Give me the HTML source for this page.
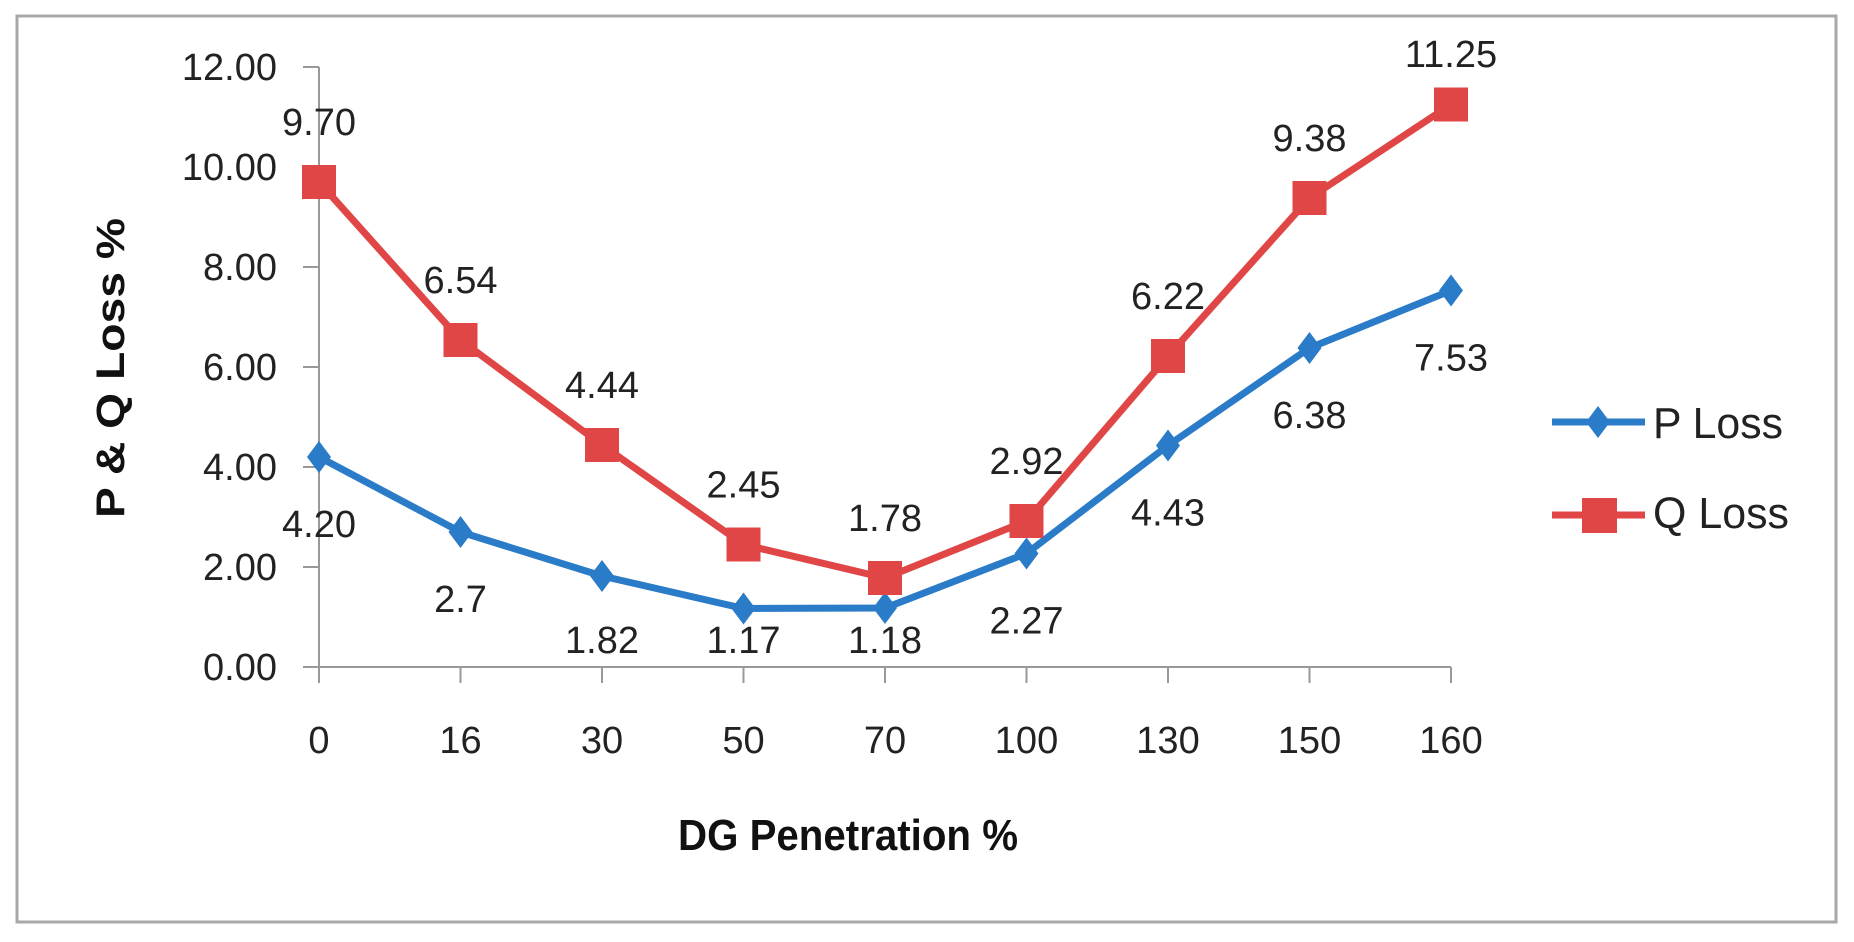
<!DOCTYPE html>
<html><head><meta charset="utf-8"><style>
html,body{margin:0;padding:0;background:#fff;}
svg{display:block;font-family:"Liberation Sans",sans-serif;}
</style></head><body>
<svg id="chart" width="1854" height="942" viewBox="0 0 1854 942" xmlns="http://www.w3.org/2000/svg">
<rect x="17" y="16" width="1819" height="906" fill="#fff" stroke="#a8a8a8" stroke-width="3"/>
<g id="axes"></g><g id="series"></g>
<text transform="translate(124,368) rotate(-90)" text-anchor="middle" font-size="40" font-weight="bold" fill="#111" textLength="300" lengthAdjust="spacingAndGlyphs">P &amp; Q Loss %</text>
<text x="848" y="850" text-anchor="middle" font-size="44" font-weight="bold" fill="#111" textLength="340" lengthAdjust="spacingAndGlyphs">DG Penetration %</text>
<g>
<g>
<line x1="1552" y1="422" x2="1645" y2="422" stroke="#2a7bc8" stroke-width="7"/>
<polygon points="1598,406 1610,422 1598,438 1586,422" fill="#2a7bc8"/>
<text x="1653" y="438" font-size="44" fill="#222" textLength="130" lengthAdjust="spacingAndGlyphs">P Loss</text></g>
<g>
<line x1="1552" y1="515" x2="1645" y2="515" stroke="#e04646" stroke-width="7"/>
<rect x="1582" y="498" width="35" height="35" fill="#e04646"/>
<text x="1653" y="528" font-size="44" fill="#222" textLength="136" lengthAdjust="spacingAndGlyphs">Q Loss</text></g>
</g>
</svg>
<script>
const categories=["0","16","30","50","70","100","130","150","160"];
const pLoss=[4.20,2.70,1.82,1.17,1.18,2.27,4.43,6.38,7.53];
const qLoss=[9.70,6.54,4.44,2.45,1.78,2.92,6.22,9.38,11.25];
const pLabels=["4.20","2.7","1.82","1.17","1.18","2.27","4.43","6.38","7.53"];
const qLabels=["9.70","6.54","4.44","2.45","1.78","2.92","6.22","9.38","11.25"];
const yTicks=[0,2,4,6,8,10,12];
const yTickLabels=["0.00","2.00","4.00","6.00","8.00","10.00","12.00"];
const NS="http://www.w3.org/2000/svg";
const x0=319,step=141.5,yBase=667,yTop=67,yMax=12;
function xs(i){return x0+i*step;}
function ys(v){return yBase-(v/yMax)*(yBase-yTop);}
function mk(t,a,p){const e=document.createElementNS(NS,t);for(const k in a)e.setAttribute(k,a[k]);p.appendChild(e);return e;}
const axes=document.getElementById('axes'),ser=document.getElementById('series');
const ya=mk('line',{x1:x0,y1:ys(yMax),x2:x0,y2:yBase,stroke:'#999','stroke-width':2},axes);


yTicks.forEach((v,i)=>{
 const t=mk('line',{x1:x0-16,y1:ys(v),x2:x0,y2:ys(v),stroke:'#999','stroke-width':2},axes);
 
 
 const l=mk('text',{x:277,y:ys(v)+13,'text-anchor':'end','font-size':38,fill:'#222'},axes);
 l.textContent=yTickLabels[i];
 
 
});
const xa=mk('line',{x1:x0-10,y1:yBase,x2:xs(categories.length-1),y2:yBase,stroke:'#999','stroke-width':2},axes);


categories.forEach((c,i)=>{
 const t=mk('line',{x1:xs(i),y1:yBase,x2:xs(i),y2:yBase+16,stroke:'#999','stroke-width':2},axes);
 
 
 const l=mk('text',{x:xs(i),y:yBase+86,'text-anchor':'middle','font-size':38,fill:'#222'},axes);
 l.textContent=c;
 
 
});
function series(vals,labels,color,name,shape,dy){
 const pl=mk('polyline',{points:vals.map((v,i)=>xs(i)+','+ys(v)).join(' '),fill:'none',stroke:color,'stroke-width':7,'stroke-linejoin':'round'},ser);
 
 
 vals.forEach((v,i)=>{
  const x=xs(i),y=ys(v);let m;
  if(shape==='square'){m=mk('rect',{x:x-17,y:y-17,width:34,height:34,fill:color},ser);}
  else{m=mk('polygon',{points:`${x},${y-16} ${x+12},${y} ${x},${y+16} ${x-12},${y}`,fill:color},ser);}
  
  
  const ly=Math.max(67,Math.min(y+dy,yBase-14));
  const l=mk('text',{x:x,y:ly,'text-anchor':'middle','font-size':38,fill:'#222'},ser);
  l.textContent=labels[i];
  
  
 });
}
series(pLoss,pLabels,'#2a7bc8','p-loss','diamond',80);
series(qLoss,qLabels,'#e04646','q-loss','square',-47);
</script>
</body></html>
